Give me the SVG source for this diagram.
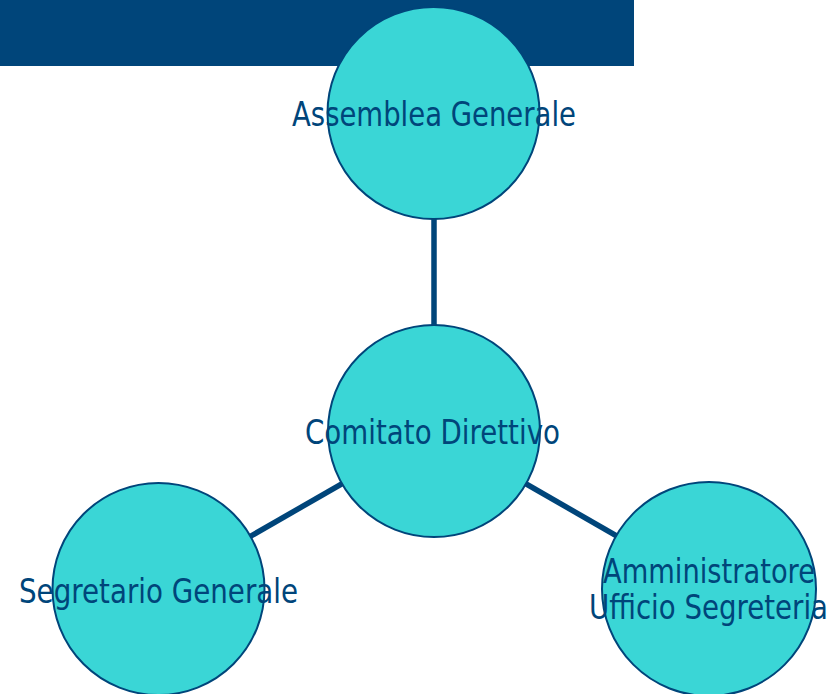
<svg xmlns="http://www.w3.org/2000/svg" width="839" height="694" viewBox="0 0 839 694">
<style>
.node{fill:#3AD6D6;stroke:#00457A;stroke-width:2}
.lbl{font-family:"DejaVu Sans","Liberation Sans",sans-serif;font-size:33px;fill:#00457A;text-anchor:start}
.edge{stroke:#00457A;stroke-width:5.5;fill:none}
</style>
<rect x="0" y="0" width="634" height="66" fill="#00457A"/>
<g id="connectors">
<line class="edge" x1="434" y1="113" x2="434" y2="431"/>
<line class="edge" x1="434" y1="431" x2="158.5" y2="589"/>
<line class="edge" x1="434" y1="431" x2="709" y2="589"/>
</g>
<g id="assemblea">
<circle class="node" cx="433.5" cy="113" r="106"/>
<text class="lbl" x="292" y="126" textLength="284" lengthAdjust="spacingAndGlyphs">Assemblea Generale</text>
</g>
<g id="comitato">
<circle class="node" cx="434" cy="431" r="106"/>
<text class="lbl" x="305" y="444" textLength="255" lengthAdjust="spacingAndGlyphs">Comitato Direttivo</text>
</g>
<g id="segretario">
<circle class="node" cx="158.5" cy="589" r="106"/>
<text class="lbl" x="19" y="603" textLength="279" lengthAdjust="spacingAndGlyphs">Segretario Generale</text>
</g>
<g id="amministratore">
<circle class="node" cx="709" cy="589" r="107"/>
<text class="lbl" x="603" y="583" textLength="212" lengthAdjust="spacingAndGlyphs">Amministratore</text>
<text class="lbl" x="589" y="619" textLength="239" lengthAdjust="spacingAndGlyphs">Ufficio Segreteria</text>
</g>
</svg>
